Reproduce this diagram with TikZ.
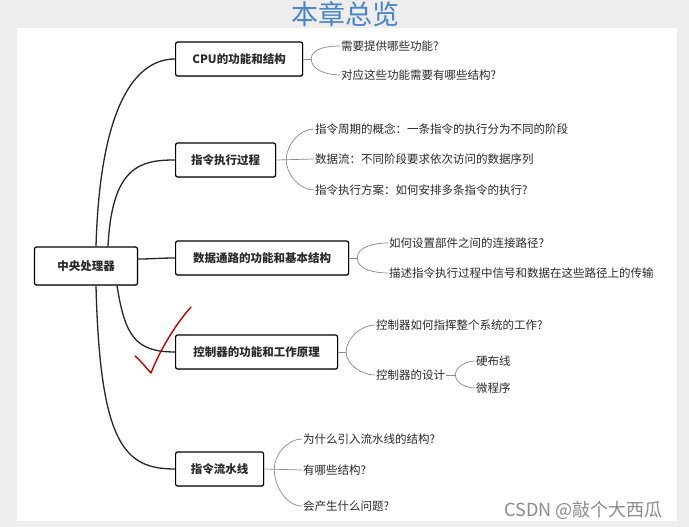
\documentclass[tikz,border=0pt]{standalone}
\usepackage{fontspec}
\setmainfont{Noto Sans CJK SC}
\usetikzlibrary{calc,shadows}
\definecolor{titleblue}{HTML}{4A84C6}
\definecolor{bggrey}{HTML}{EDEDED}
\definecolor{leafgrey}{HTML}{8A8A8A}
\definecolor{textgrey}{HTML}{2A2A2A}
\begin{document}
\begin{tikzpicture}[x=1pt,y=-1pt,
  topicbox/.style={draw=black, line width=1.2pt, rounded corners=2pt, fill=white,
    minimum height=34pt, inner xsep=4pt, anchor=west, font=\fontsize{11.5}{13}\selectfont\bfseries, text=textgrey,
    drop shadow={shadow xshift=0.8pt, shadow yshift=-0.8pt, opacity=0.35, fill=gray}},
  rootbox/.style={topicbox, anchor=center, minimum height=38pt, minimum width=103pt},
  leaf/.style={anchor=west, inner sep=1pt, font=\fontsize{11.5}{13}\selectfont, text=textgrey},
  mainline/.style={draw=black!85, line width=1.3pt},
  leafline/.style={draw=leafgrey, line width=0.7pt},
  wm/.style={font=\fontsize{18}{20}\selectfont, text=black!45, anchor=west}]
\useasboundingbox (0,0) rectangle (689,527);
\fill[bggrey] (0,0) rectangle (689,527);
\fill[white] (17,28) rectangle (677,521);

\node[font=\fontsize{27}{30}\selectfont, text=titleblue] (title) at (345,14) {本章总览};

% topic boxes
\node[rootbox] (cp) at (86,266) {中央处理器};
\node[topicbox, minimum width=127pt] (cpu) at (175,59) {CPU的功能和结构};
\node[topicbox, minimum width=100pt] (exe) at (175,160) {指令执行过程};
\node[topicbox, minimum width=173pt] (dp) at (175,258) {数据通路的功能和基本结构};
\node[topicbox, minimum width=162pt] (ctl) at (175,352) {控制器的功能和工作原理};
\node[topicbox, minimum width=88pt] (pipe) at (175,469) {指令流水线};

% main connectors
\draw[mainline] ($(cp.north)+(10,0)$) .. controls +(4,-140) and +(-40,0) .. (cpu.west);
\draw[mainline] ($(cp.north)+(22,0)$) .. controls +(4,-80) and +(-35,0) .. (exe.west);
\draw[mainline] ($(cp.east)+(0,-7)$) to[out=0,in=180] (dp.west);
\draw[mainline] ($(cp.south)+(31,0)$) .. controls +(8,50) and +(-40,0) .. (ctl.west);
\draw[mainline] ($(cp.south)+(10,0)$) .. controls +(4,160) and +(-50,0) .. (pipe.west);

% leaves
\node[leaf] (cpu1) at (340,46) {需要提供哪些功能?};
\node[leaf] (cpu2) at (340,75) {对应这些功能需要有哪些结构?};
\node[leaf] (exe1) at (314,129) {指令周期的概念：一条指令的执行分为不同的阶段};
\node[leaf] (exe2) at (314,159) {数据流：不同阶段要求依次访问的数据序列};
\node[leaf] (exe3) at (314,190) {指令执行方案：如何安排多条指令的执行?};
\node[leaf] (dp1) at (388,243) {如何设置部件之间的连接路径?};
\node[leaf] (dp2) at (388,273) {描述指令执行过程中信号和数据在这些路径上的传输};
\node[leaf] (ctl1) at (375,325) {控制器如何指挥整个系统的工作?};
\node[leaf] (ctl2) at (375,375) {控制器的设计};
\node[leaf] (hw) at (475,361) {硬布线};
\node[leaf] (mp) at (475,388) {微程序};
\node[leaf] (pipe1) at (302,439) {为什么引入流水线的结构?};
\node[leaf] (pipe2) at (302,470) {有哪些结构?};
\node[leaf] (pipe3) at (302,506) {会产生什么问题?};

% leaf connectors
\coordinate (cpuJ) at ($(cpu.east)+(8,0)$);
\draw[leafline] (cpu.east) -- (cpuJ);
\draw[leafline] (cpuJ) to[out=90,in=180,looseness=0.9] (cpu1.west);
\draw[leafline] (cpuJ) to[out=-90,in=180,looseness=0.9] (cpu2.west);

\coordinate (exeJ) at ($(exe.east)+(10,0)$);
\draw[leafline] (exe.east) -- (exe2.west);
\draw[leafline] (exeJ) to[out=90,in=180,looseness=0.9] (exe1.west);
\draw[leafline] (exeJ) to[out=-90,in=180,looseness=0.9] (exe3.west);

\coordinate (dpJ) at ($(dp.east)+(8,0)$);
\draw[leafline] (dp.east) -- (dpJ);
\draw[leafline] (dpJ) to[out=90,in=180,looseness=0.9] (dp1.west);
\draw[leafline] (dpJ) to[out=-90,in=180,looseness=0.9] (dp2.west);

\coordinate (ctlJ) at ($(ctl.east)+(8,0)$);
\draw[leafline] (ctl.east) -- (ctlJ);
\draw[leafline] (ctlJ) to[out=90,in=180,looseness=0.9] (ctl1.west);
\draw[leafline] (ctlJ) to[out=-90,in=180,looseness=0.9] (ctl2.west);

\coordinate (desJ) at ($(ctl2.east)+(9,0)$);
\draw[leafline] (ctl2.east) -- (desJ);
\draw[leafline] (desJ) to[out=90,in=180,looseness=0.9] (hw.west);
\draw[leafline] (desJ) to[out=-90,in=180,looseness=0.9] (mp.west);

\coordinate (pipeJ) at ($(pipe.east)+(10,0)$);
\draw[leafline] (pipe.east) -- (pipe2.west);
\draw[leafline] (pipeJ) to[out=90,in=180,looseness=0.9] (pipe1.west);
\draw[leafline] (pipeJ) to[out=-90,in=180,looseness=0.9] (pipe3.west);

% red check mark
\draw[red!75!black, line width=1.4pt, line cap=round, line join=round]
  (135,356) .. controls (142,362) and (147,369) .. (151,373)
  .. controls (160,350) and (175,325) .. (191,307);

% watermark
\node[wm] (mark) at (501,510) {CSDN @敲个大西瓜};
\end{tikzpicture}
\end{document}
